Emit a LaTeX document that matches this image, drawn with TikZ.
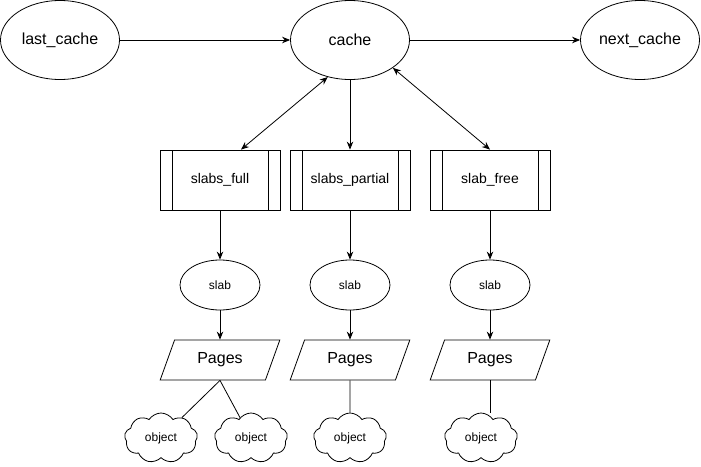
\documentclass[tikz,border=0pt]{standalone}
\usepackage{fontspec}
\setmainfont{Liberation Sans}
\usetikzlibrary{shapes.geometric,shapes.symbols,arrows.meta}

\tikzset{
    link/.style={-{Stealth[length=8pt,width=6.5pt]}, line width=0.8pt},
    both/.style={{Stealth[length=8pt,width=6.5pt]}-{Stealth[length=8pt,width=6.5pt]}, line width=0.8pt},
    topnode/.style={ellipse, draw, line width=0.8pt, minimum width=119pt, minimum height=79pt,
        inner sep=0pt, font=\fontsize{16}{19}\selectfont},
    listbox/.style={rectangle, draw, line width=0.8pt, minimum width=120pt, minimum height=60pt,
        inner sep=0pt, font=\fontsize{14}{17}\selectfont,
        path picture={
            \draw[line width=0.8pt] ([xshift=12pt]path picture bounding box.north west)
                -- ([xshift=12pt]path picture bounding box.south west);
            \draw[line width=0.8pt] ([xshift=-12pt]path picture bounding box.north east)
                -- ([xshift=-12pt]path picture bounding box.south east);
        }},
    slabnode/.style={ellipse, draw, line width=0.8pt, minimum width=80pt, minimum height=50pt,
        inner sep=0pt, font=\fontsize{12}{14}\selectfont},
    pagesnode/.style={trapezium, trapezium left angle=63.4, trapezium right angle=116.6,
        trapezium stretches=true, draw, line width=0.8pt, minimum width=120pt, minimum height=40pt,
        inner sep=0pt, font=\fontsize{16}{19}\selectfont},
    objnode/.style={cloud, cloud puffs=9, cloud puff arc=115, aspect=1.5, draw, line width=0.8pt,
        minimum width=73pt, minimum height=50pt, inner sep=0pt, font=\fontsize{12}{14}\selectfont}
}

\begin{document}
\begin{tikzpicture}[x=1pt, y=-1pt]
\useasboundingbox (0, 0) rectangle (701, 466);

% cache list
\node[topnode] (last) at (60, 40) {last\_cache};
\node[topnode] (cache) at (350, 40) {cache};
\node[topnode] (next) at (640, 40) {next\_cache};
\draw[link] (last) -- (cache);
\draw[link] (cache) -- (next);

% the three slab lists
\node[listbox] (full) at (220, 180) {slabs\_full};
\node[listbox] (partial) at (350, 180) {slabs\_partial};
\node[listbox] (free) at (490, 180) {slab\_free};
\draw[both] (cache.-121) -- ([xshift=21pt]full.north);
\draw[link] (cache) -- (partial);
\draw[both] (cache.-33) -- (free.north);

% slabs and their pages
\node[slabnode] (slabA) at (220, 285) {slab};
\node[slabnode] (slabB) at (350, 285) {slab};
\node[slabnode] (slabC) at (490, 285) {slab};
\node[pagesnode] (pagesA) at (220, 360) {Pages};
\node[pagesnode] (pagesB) at (350, 360) {Pages};
\node[pagesnode] (pagesC) at (490, 360) {Pages};
\draw[link] (full) -- (slabA);
\draw[link] (partial) -- (slabB);
\draw[link] (free) -- (slabC);
\draw[link] (slabA) -- (pagesA);
\draw[link] (slabB) -- (pagesB);
\draw[link] (slabC) -- (pagesC);

% objects
\node[objnode] (objA) at (161, 438) {object};
\node[objnode] (objB) at (251, 438) {object};
\node[objnode] (objC) at (350, 438) {object};
\node[objnode] (objD) at (481, 438) {object};
\draw[line width=0.8pt] (pagesA.south) -- (objA);
\draw[line width=0.8pt] (pagesA.south) -- (objB);
\draw[line width=0.8pt] (pagesB) -- (objC);
\draw[line width=0.8pt] (pagesC.south) -- (pagesC.south |- objD.north);
\end{tikzpicture}
\end{document}
